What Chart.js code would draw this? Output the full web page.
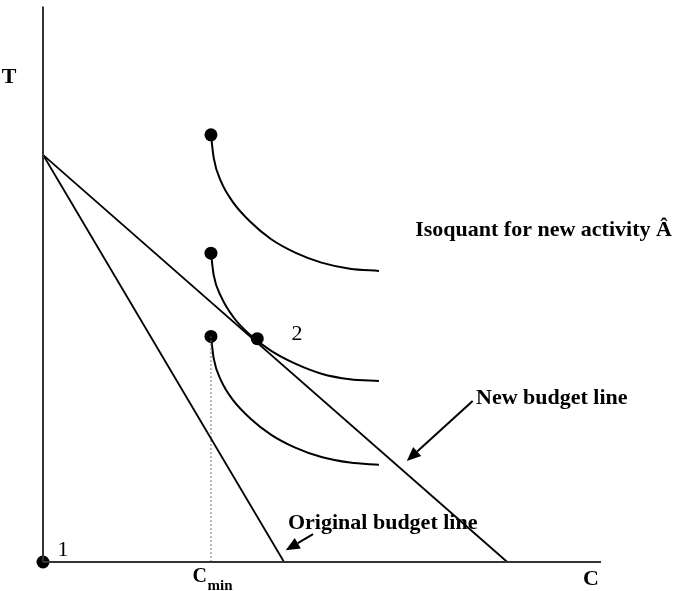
<!DOCTYPE html>
<html>
<head>
<meta charset="utf-8">
<script src="https://cdn.jsdelivr.net/npm/chart.js@4.4.1/dist/chart.umd.min.js"></script>
<style>
  body { margin: 0; background: #fff; }
  canvas { display: block; }
</style>
</head>
<body>
<canvas id="budgetChart" width="673" height="591"></canvas>
<script>
// ---- values (axis units 0..100) ----
const axisMax = 100;
const tIntercept = 73.3;       // where both budget lines meet the T axis
const origCIntercept = 43.2;   // original budget line meets the C axis
const newCIntercept = 83.2;    // new budget line meets the C axis
const cMin = 30.1;

// isoquants (shared C values)
const isoC    = [30.1, 30.6, 31.9, 34.1, 37.2, 40.9, 45.2, 49.9, 55.0, 60.2];
const isoHigh = [76.9, 72.7, 68.5, 64.7, 61.2, 58.1, 55.7, 53.9, 52.8, 52.4];
const isoMid  = [55.6, 51.6, 47.8, 44.1, 40.8, 38.0, 35.7, 33.9, 32.9, 32.6];
const isoLow  = [40.6, 36.6, 32.7, 29.1, 25.8, 22.9, 20.6, 18.9, 17.9, 17.5];

// black dots
const dotC = [0, 30.1, 30.1, 30.1, 38.4];
const dotT = [0, 76.9, 55.6, 40.6, 40.2];

const toPts = (xs, ys) => xs.map((x, i) => ({ x: x, y: ys[i] }));

// text labels and arrows, placed in axis units
const labels = [
  { text: 'T', x: -6.1, y: 87.3, bold: true, size: 22, align: 'center' },
  { text: 'Isoquant for new activity Â', x: 66.7, y: 59.7, bold: true, size: 22, align: 'left' },
  { text: 'New budget line', x: 77.6, y: 29.5, bold: true, size: 22, align: 'left' },
  { text: 'Original budget line', x: 43.9, y: 7.0, bold: true, size: 22, align: 'left' },
  { text: '2', x: 45.5, y: 41.0, bold: false, size: 22, align: 'center' },
  { text: '1', x: 3.6, y: 2.1, bold: false, size: 22, align: 'center' },
  { text: 'C', x: 98.2, y: -3.2, bold: true, size: 22, align: 'center' },
  { text: 'C', x: 28.1, y: -2.7, bold: true, size: 20, align: 'center' },
  { text: 'min', x: 29.5, y: -4.4, bold: true, size: 15, align: 'left' }
];
const arrows = [
  { from: [77.0, 29.0], to: [65.2, 18.2] },
  { from: [48.4, 5.0], to: [43.5, 2.1] }
];

const overlayPlugin = {
  id: 'overlay',
  afterDatasetsDraw(chart) {
    const ctx = chart.ctx;
    const xs = chart.scales.x, ys = chart.scales.y;
    ctx.save();
    ctx.fillStyle = '#000';
    ctx.textBaseline = 'middle';
    labels.forEach(l => {
      ctx.font = (l.bold ? 'bold ' : '') + l.size + 'px "Liberation Serif", "Times New Roman", serif';
      ctx.textAlign = l.align;
      ctx.fillText(l.text, xs.getPixelForValue(l.x), ys.getPixelForValue(l.y));
    });
    // arrows
    ctx.strokeStyle = '#000';
    ctx.lineWidth = 2;
    arrows.forEach(a => {
      const x1 = xs.getPixelForValue(a.from[0]), y1 = ys.getPixelForValue(a.from[1]);
      const x2 = xs.getPixelForValue(a.to[0]), y2 = ys.getPixelForValue(a.to[1]);
      const ang = Math.atan2(y2 - y1, x2 - x1);
      const len = 14, half = 6;
      const bx = x2 - len * Math.cos(ang), by = y2 - len * Math.sin(ang);
      ctx.beginPath();
      ctx.moveTo(x1, y1);
      ctx.lineTo(bx, by);
      ctx.stroke();
      ctx.beginPath();
      ctx.moveTo(x2, y2);
      ctx.lineTo(bx + half * Math.sin(ang), by - half * Math.cos(ang));
      ctx.lineTo(bx - half * Math.sin(ang), by + half * Math.cos(ang));
      ctx.closePath();
      ctx.fill();
    });
    ctx.restore();
  }
};

const lineDs = (data, extra) => Object.assign({
  data: data,
  showLine: true,
  borderColor: '#000',
  borderWidth: 2,
  pointRadius: 0,
  fill: false,
  clip: false
}, extra || {});

new Chart(document.getElementById('budgetChart'), {
  type: 'scatter',
  data: {
    datasets: [
      lineDs([{ x: 0, y: 0 }, { x: 0, y: axisMax }], { borderColor: '#333' }),
      lineDs([{ x: 0, y: 0 }, { x: axisMax, y: 0 }], { borderColor: '#333' }),
      lineDs([{ x: 0, y: tIntercept }, { x: origCIntercept, y: 0 }], { borderWidth: 1.8 }),
      lineDs([{ x: 0, y: tIntercept }, { x: newCIntercept, y: 0 }], { borderWidth: 1.8 }),
      lineDs([{ x: cMin, y: 0 }, { x: cMin, y: dotT[3] }], { borderColor: '#777', borderWidth: 1, borderDash: [2, 2] }),
      lineDs(toPts(isoC, isoHigh), { cubicInterpolationMode: 'monotone' }),
      lineDs(toPts(isoC, isoMid), { cubicInterpolationMode: 'monotone' }),
      lineDs(toPts(isoC, isoLow), { cubicInterpolationMode: 'monotone' }),
      {
        data: toPts(dotC, dotT),
        showLine: false,
        pointRadius: 6.5,
        pointBackgroundColor: '#000',
        pointBorderColor: '#000',
        pointBorderWidth: 0,
        clip: false
      }
    ]
  },
  options: {
    responsive: false,
    animation: false,
    layout: { padding: { left: 43, right: 72, top: 3, bottom: 29 } },
    scales: {
      x: { type: 'linear', min: 0, max: axisMax, display: false },
      y: { type: 'linear', min: 0, max: axisMax, display: false }
    },
    plugins: {
      legend: { display: false },
      tooltip: { enabled: false }
    }
  },
  plugins: [overlayPlugin]
});
</script>
</body>
</html>
